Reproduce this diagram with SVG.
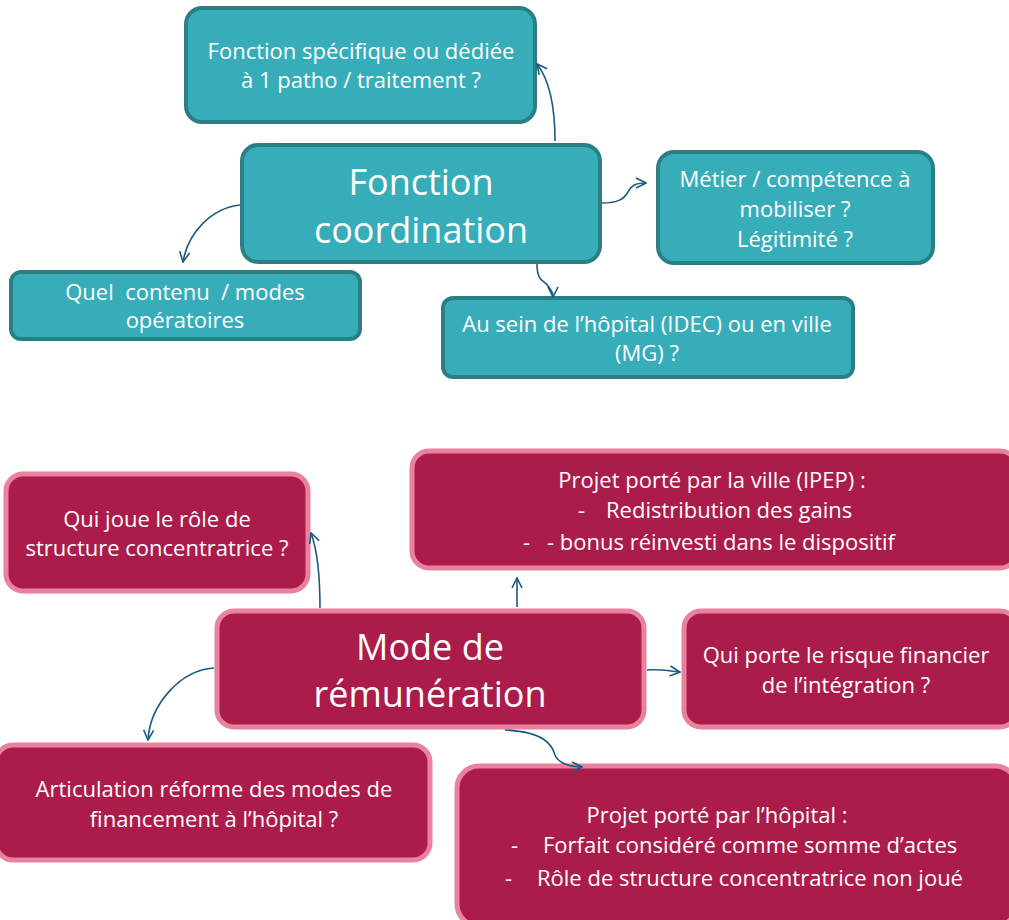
<svg xmlns="http://www.w3.org/2000/svg" width="1009" height="920" viewBox="0 0 1009 920">
<defs>
<style>
.t rect{fill:#38ADBA;stroke:#2B7E86;stroke-width:4}
.p rect{fill:#AB1C4A;stroke:#E9829F;stroke-width:5}
text{font-family:"Open Sans",Lato,"Liberation Sans",sans-serif;fill:#FFFFFF;text-anchor:middle;font-size:22px;white-space:pre;font-variant-ligatures:none}
.big{font-size:36px}
.l text{text-anchor:start}
.c path{fill:none;stroke:#1D5A82;stroke-width:1.6;marker-end:url(#a)}
</style>
<marker id="a" viewBox="0 0 12 12" refX="11" refY="6" markerWidth="12" markerHeight="12" markerUnits="userSpaceOnUse" orient="auto">
<path d="M1,1 L11,6 L1,11" fill="none" stroke="#1D5A82" stroke-width="1.6"/>
</marker>
</defs>
<rect width="1009" height="920" fill="#FFFFFF"/>

<g id="n_top" class="t"><rect x="186" y="8" width="349" height="114" rx="16"/>
<text x="361" y="59">Fonction spécifique ou dédiée</text>
<text x="361" y="88">à 1 patho / traitement ?</text></g>

<g id="n_coord" class="t"><rect x="242" y="145" width="358" height="117" rx="16"/>
<text x="421" y="195" class="big">Fonction</text>
<text x="421" y="243" class="big">coordination</text></g>

<g id="n_metier" class="t"><rect x="658" y="152" width="275" height="111" rx="16"/>
<text x="795" y="187">Métier / compétence à</text>
<text x="795" y="217">mobiliser ?</text>
<text x="795" y="247">Légitimité ?</text></g>

<g id="n_quel" class="t"><rect x="11" y="272" width="349" height="67" rx="10"/>
<text x="185" y="300">Quel  contenu  / modes</text>
<text x="185" y="328">opératoires</text></g>

<g id="n_sein" class="t"><rect x="443" y="298" width="410" height="79" rx="10"/>
<text x="647" y="332">Au sein de l’hôpital (IDEC) ou en ville</text>
<text x="647" y="361">(MG) ?</text></g>

<g id="n_quijoue" class="p"><rect x="6" y="474" width="302" height="117" rx="17"/>
<text x="157" y="527">Qui joue le rôle de</text>
<text x="157" y="556">structure concentratrice ?</text></g>

<g id="n_ville" class="p"><rect x="412" y="451" width="605" height="117" rx="17"/>
<text x="712" y="488">Projet porté par la ville (IPEP) :</text>
<g class="l"><text x="578" y="518">-</text><text x="606" y="518">Redistribution des gains</text>
<text x="523" y="550">-</text><text x="547" y="550">- bonus réinvesti dans le dispositif</text></g></g>

<g id="n_mode" class="p"><rect x="217" y="611" width="427" height="116" rx="17"/>
<text x="430" y="660" class="big">Mode de</text>
<text x="430" y="707" class="big">rémunération</text></g>

<g id="n_risque" class="p"><rect x="684" y="611" width="333" height="116" rx="17"/>
<text x="846" y="663">Qui porte le risque financier</text>
<text x="846" y="693">de l’intégration ?</text></g>

<g id="n_artic" class="p"><rect x="-4" y="745" width="434" height="115" rx="17"/>
<text x="214" y="797">Articulation réforme des modes de</text>
<text x="214" y="827">financement à l’hôpital ?</text></g>

<g id="n_hop" class="p"><rect x="457" y="766" width="560" height="160" rx="22"/>
<text x="717" y="823">Projet porté par l’hôpital :</text>
<g class="l"><text x="511" y="853">-</text><text x="543" y="853">Forfait considéré comme somme d’actes</text>
<text x="505" y="886">-</text><text x="537" y="886">Rôle de structure concentratrice non joué</text></g></g>

<g class="c" id="connectors">
<path d="M555,141 C555,110 551,82 537,64"/>
<path d="M240,205 C212,208 188,232 183,262"/>
<path d="M602,203 C618,203 624,199 628,192 C632,184 638,183 646,183"/>
<path d="M537,264 C537,283 545,280 548,286 C551,291 553,290 553,297"/>
<path d="M320,608 C320,580 318,552 311,533"/>
<path d="M517,607 L517,578"/>
<path d="M647,670 C660,669 670,671 680,672"/>
<path d="M214,668 C180,670 150,705 148,740"/>
<path d="M505,730 C545,732 552,745 555,755 C558,763 570,767 582,767"/>
</g>
</svg>
